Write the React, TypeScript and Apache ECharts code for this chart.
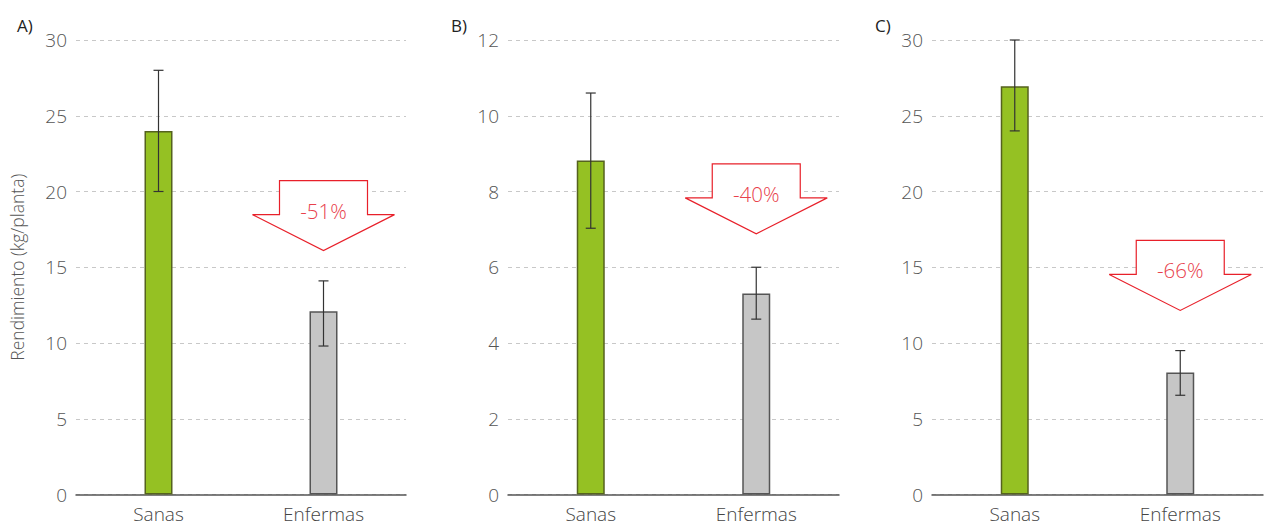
import React, { useEffect, useRef } from "react";
import * as echarts from "echarts";

const categories = ["Sanas", "Enfermas"];
const panelLabels = ["A)", "B)", "C)"];
const yMax = [30, 12, 30];
const yInterval = [5, 2, 5];
const means = [
  [24.0, 12.1],
  [8.82, 5.31],
  [26.95, 8.05],
];
const errLow = [
  [20.0, 9.8],
  [7.03, 4.63],
  [24.0, 6.55],
];
const errHigh = [
  [28.0, 14.1],
  [10.6, 6.0],
  [30.0, 9.5],
];
const arrowTop = [20.72, 8.73, 16.77];
const arrowLabels = ["-51%", "-40%", "-66%"];
const barColors = ["#95c123", "#c6c6c6"];
const barBorders = ["#55621f", "#555555"];

const FONT = "'Open Sans', 'Noto Sans', sans-serif";

const gridPos = [
  { left: 76, width: 330 },
  { left: 508, width: 331 },
  { left: 932, width: 331 },
];

export default function App() {
  const ref = useRef<HTMLDivElement>(null);
  useEffect(() => {
    if (!ref.current) return;
    const chart = echarts.init(ref.current, null, { renderer: "svg" });
    const grids = gridPos.map((g) => ({ left: g.left, width: g.width, top: 40, height: 454.5 }));
    const xAxis = gridPos.map((_, i) => ({
      type: "category",
      gridIndex: i,
      data: categories,
      axisTick: { show: false },
      axisLine: { lineStyle: { color: "#555", width: 1.5 } },
      axisLabel: { fontSize: 19, color: "#444", margin: 10, fontFamily: FONT, fontWeight: 300 },
    }));
    const yAxis = gridPos.map((_, i) => ({
      type: "value",
      gridIndex: i,
      min: 0,
      max: yMax[i],
      interval: yInterval[i],
      axisLine: { show: false },
      axisTick: { show: false },
      splitLine: { lineStyle: { color: "#c8c8c8", type: [4, 4], width: 1 } },
      axisLabel: { fontSize: 19, color: "#555", margin: 9, fontFamily: FONT, fontWeight: 300 },
      ...(i === 0
        ? {
            name: "Rendimiento (kg/planta)",
            nameLocation: "middle",
            nameRotate: 90,
            nameGap: 50,
            nameTextStyle: { fontSize: 17.5, color: "#555", fontFamily: FONT, fontWeight: 300 },
          }
        : {}),
    }));
    const series: any[] = [];
    for (let i = 0; i < 3; i++) {
      series.push({
        type: "bar",
        xAxisIndex: i,
        yAxisIndex: i,
        barWidth: 28,
        z: 2,
        data: means[i].map((v, j) => ({
          value: v,
          itemStyle: { color: barColors[j], borderColor: barBorders[j], borderWidth: 1.5 },
        })),
      });
      series.push({
        type: "custom",
        xAxisIndex: i,
        yAxisIndex: i,
        z: 5,
        data: errLow[i].map((lo, j) => [j, lo, errHigh[i][j]]),
        renderItem: (params: any, api: any) => {
          const x = api.value(0);
          const lo = api.coord([x, api.value(1)]);
          const hi = api.coord([x, api.value(2)]);
          const w = 5;
          const style = { stroke: "#333", lineWidth: 1.2 };
          return {
            type: "group",
            children: [
              { type: "line", shape: { x1: lo[0], y1: lo[1], x2: hi[0], y2: hi[1] }, style },
              { type: "line", shape: { x1: lo[0] - w, y1: lo[1], x2: lo[0] + w, y2: lo[1] }, style },
              { type: "line", shape: { x1: hi[0] - w, y1: hi[1], x2: hi[0] + w, y2: hi[1] }, style },
            ],
          };
        },
      });
      series.push({
        type: "custom",
        xAxisIndex: i,
        yAxisIndex: i,
        z: 6,
        data: [[1, arrowTop[i]]],
        renderItem: (params: any, api: any) => {
          const p = api.coord([api.value(0), api.value(1)]);
          const x = p[0];
          const y = p[1];
          const rw = 44;
          const hw = 71;
          const rh = 34;
          const hh = 36;
          return {
            type: "group",
            children: [
              {
                type: "polygon",
                shape: {
                  points: [
                    [x - rw, y],
                    [x + rw, y],
                    [x + rw, y + rh],
                    [x + hw, y + rh],
                    [x, y + rh + hh],
                    [x - hw, y + rh],
                    [x - rw, y + rh],
                  ],
                },
                style: { fill: "#ffffff", stroke: "#e8202a", lineWidth: 1.2 },
              },
              {
                type: "text",
                x: x,
                y: y + 30,
                style: {
                  text: arrowLabels[i],
                  fill: "#e8404b",
                  fontSize: 20.5,
                  fontFamily: FONT,
                  fontWeight: 300,
                  align: "center",
                  verticalAlign: "middle",
                },
              },
            ],
          };
        },
      });
    }
    const titles = panelLabels.map((t, i) => ({
      text: t,
      left: [12, 446, 870][i],
      top: 12,
      textStyle: { fontSize: 17, color: "#222", fontWeight: 400, fontFamily: FONT },
    }));
    chart.setOption({
      animation: false,
      backgroundColor: "#ffffff",
      title: titles,
      grid: grids,
      xAxis,
      yAxis,
      series,
    });
    return () => chart.dispose();
  }, []);
  return (
    <div
      ref={ref}
      style={{ position: "fixed", left: 0, top: 0, width: 1265, height: 529 }}
    />
  );
}
